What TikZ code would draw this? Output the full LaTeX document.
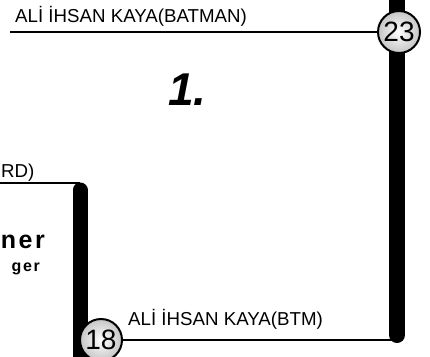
\documentclass[tikz,border=0pt]{standalone}
\usepackage{fontspec}
\setmainfont{Liberation Sans}
\newfontfamily\spaced[LetterSpace=10]{Liberation Sans}
\begin{document}
\begin{tikzpicture}[x=1pt, y=-1pt,
                    every node/.style={font=\fontsize{18.7}{20}\selectfont, inner sep=0pt},
                    stop/.style={circle, draw=black, line width=2pt, minimum size=42pt,
                                 inner color=white, outer color=gray!45,
                                 font=\fontsize{28}{30}\selectfont},
                    track/.style={line width=2.5pt},
                    trunk/.style={line width=16pt, line cap=round}
                ]
                \useasboundingbox (0,0) rectangle (430,356);
                % thick lines
                \coordinate (ntop) at (397,-12);
                \coordinate (nbot) at (397,335);
                \draw[trunk] (ntop) -- (nbot);
                \coordinate (wtop) at (80,190);
                \coordinate (wbot) at (80,372);
                \draw[trunk, line width=15pt] (wtop) -- (wbot);
                \coordinate (wend) at (-5,183);
                \coordinate (wcor) at (80,183);
                \draw[track] (wend) -- (wcor);
                % stops
                \node[stop] (s23) at (399,32) {23};
                \node[stop] (s18) at (101,340) {18};
                \coordinate (west) at (10,32);
                \coordinate (east) at (397,340);
                \draw[track] (west) -- (s23);
                \draw[track] (s18) -- (east);
                % labels
                \node[anchor=base west] (lbat) at (15,22) {ALİ İHSAN KAYA(BATMAN)};
                \node[anchor=base west] (lbtm) at (128,325) {ALİ İHSAN KAYA(BTM)};
                \node[anchor=base west] (lrd) at (1,177) {RD)};
                \node[anchor=base east, font=\fontsize{25}{27}\selectfont\spaced\bfseries] (lner) at (45,248) {ner};
                \node[anchor=base east, font=\fontsize{16}{18}\selectfont\spaced\bfseries] (lger) at (40,271) {ger};
                \node[anchor=base west, font=\fontsize{46}{48}\selectfont\bfseries\itshape] (num) at (168,105) {1.};
\end{tikzpicture}
\end{document}
